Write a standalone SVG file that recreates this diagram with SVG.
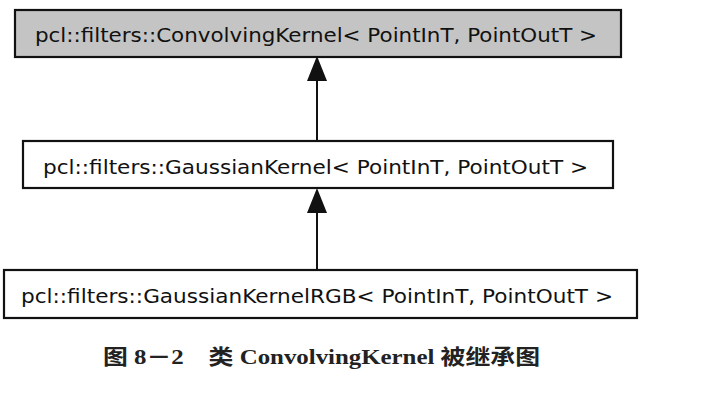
<svg xmlns="http://www.w3.org/2000/svg" width="724" height="412" viewBox="0 0 724 412">
<defs>
<style>
.box{stroke:#111;stroke-width:2.2}
.lbl{font-family:"DejaVu Sans","Noto Sans",sans-serif;font-size:20px;fill:#111}
.edge{stroke:#111;stroke-width:2;fill:none}
.head{fill:#111}
.cap{font-family:"Liberation Serif","Noto Sans CJK SC",serif;font-weight:bold;font-size:21px;fill:#222}
</style>
</defs>
<rect width="724" height="412" fill="#fff"/>
<g id="edges">
<line class="edge" x1="317" y1="141" x2="317" y2="76"/>
<path class="head" d="M307,81 L317,56 L327,81 Z"/>
<line class="edge" x1="317" y1="270" x2="317" y2="208"/>
<path class="head" d="M307,213 L317,188 L327,213 Z"/>
</g>
<g id="node-convolving">
<rect class="box" x="15" y="10" width="606" height="47" fill="#c4c4c4"/>
<text class="lbl" x="35" y="42" textLength="562" lengthAdjust="spacingAndGlyphs">pcl::filters::ConvolvingKernel&lt; PointInT, PointOutT &gt;</text>
</g>
<g id="node-gaussian">
<rect class="box" x="23" y="141" width="590" height="47" fill="#fff"/>
<text class="lbl" x="43" y="174" textLength="545" lengthAdjust="spacingAndGlyphs">pcl::filters::GaussianKernel&lt; PointInT, PointOutT &gt;</text>
</g>
<g id="node-gaussianrgb">
<rect class="box" x="4" y="270" width="633" height="48" fill="#fff"/>
<text class="lbl" x="21" y="303" textLength="592" lengthAdjust="spacingAndGlyphs">pcl::filters::GaussianKernelRGB&lt; PointInT, PointOutT &gt;</text>
</g>
<text class="cap" x="103" y="364" textLength="437" lengthAdjust="spacingAndGlyphs">图 8－2　类 ConvolvingKernel 被继承图</text>
</svg>
